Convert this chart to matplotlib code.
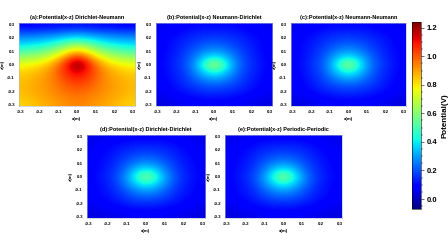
import matplotlib
matplotlib.use("Agg")
import matplotlib.pyplot as plt
import numpy as np

plt.rcParams['font.family'] = ['Liberation Sans', 'DejaVu Sans']
plt.rcParams['font.weight'] = 'bold'

titles = ["(a):Potential(x-z) Dirichlet-Neumann",
          "(b):Potential(x-z) Neumann-Dirichlet",
          "(c):Potential(x-z) Neumann-Neumann",
          "(d):Potential(x-z) Dirichlet-Dirichlet",
          "(e):Potential(x-z) Periodic-Periodic"]
tick_vals = [-0.3, -0.2, -0.1, 0.0, 0.1, 0.2, 0.3]
tick_labels = ["-0.3", "-0.2", "-0.1", "0.0", "0.1", "0.2", "0.3"]
cbar_ticks = [0.0, 0.2, 0.4, 0.6, 0.8, 1.0, 1.2]
vmin, vmax = -0.07, 1.24

# grids: rows z = 0.30 ... -0.30 (step 0.05), cols x = -0.30 ... 0.30 (step 0.05)
pot_a = [
 [0.09,0.09,0.10,0.10,0.11,0.11,0.12,0.11,0.11,0.10,0.10,0.09,0.09],
 [0.20,0.20,0.21,0.22,0.23,0.25,0.26,0.25,0.23,0.22,0.21,0.20,0.20],
 [0.30,0.31,0.32,0.34,0.37,0.40,0.42,0.40,0.37,0.34,0.32,0.31,0.30],
 [0.40,0.41,0.43,0.47,0.53,0.61,0.66,0.61,0.53,0.47,0.43,0.41,0.40],
 [0.52,0.54,0.57,0.62,0.70,0.80,0.86,0.80,0.70,0.62,0.57,0.54,0.52],
 [0.65,0.67,0.70,0.76,0.86,0.99,1.08,0.99,0.86,0.76,0.70,0.67,0.65],
 [0.76,0.78,0.81,0.87,0.97,1.11,1.23,1.11,0.97,0.87,0.81,0.78,0.76],
 [0.82,0.84,0.87,0.92,1.00,1.09,1.15,1.09,1.00,0.92,0.87,0.84,0.82],
 [0.85,0.87,0.89,0.93,0.99,1.05,1.08,1.05,0.99,0.93,0.89,0.87,0.85],
 [0.86,0.88,0.90,0.93,0.97,1.01,1.03,1.01,0.97,0.93,0.90,0.88,0.86],
 [0.86,0.88,0.90,0.92,0.95,0.98,0.99,0.98,0.95,0.92,0.90,0.88,0.86],
 [0.85,0.87,0.89,0.91,0.93,0.95,0.96,0.95,0.93,0.91,0.89,0.87,0.85],
 [0.83,0.85,0.87,0.89,0.91,0.93,0.94,0.93,0.91,0.89,0.87,0.85,0.83],
]
pot_b = [
 [0.06,0.07,0.08,0.09,0.10,0.10,0.10,0.10,0.10,0.09,0.08,0.07,0.06],
 [0.07,0.09,0.10,0.12,0.13,0.14,0.14,0.14,0.13,0.12,0.10,0.09,0.07],
 [0.08,0.10,0.12,0.14,0.16,0.17,0.18,0.17,0.16,0.14,0.12,0.10,0.08],
 [0.08,0.11,0.13,0.16,0.19,0.22,0.23,0.22,0.19,0.16,0.13,0.11,0.08],
 [0.09,0.11,0.14,0.18,0.23,0.28,0.30,0.28,0.23,0.18,0.14,0.11,0.09],
 [0.09,0.12,0.15,0.20,0.28,0.38,0.43,0.38,0.28,0.20,0.15,0.12,0.09],
 [0.09,0.12,0.16,0.21,0.32,0.49,0.66,0.49,0.32,0.21,0.16,0.12,0.09],
 [0.09,0.12,0.15,0.20,0.29,0.40,0.47,0.40,0.29,0.20,0.15,0.12,0.09],
 [0.08,0.11,0.14,0.18,0.24,0.30,0.33,0.30,0.24,0.18,0.14,0.11,0.08],
 [0.08,0.10,0.13,0.16,0.19,0.22,0.23,0.22,0.19,0.16,0.13,0.10,0.08],
 [0.07,0.09,0.11,0.13,0.15,0.16,0.17,0.16,0.15,0.13,0.11,0.09,0.07],
 [0.06,0.07,0.08,0.10,0.11,0.12,0.12,0.12,0.11,0.10,0.08,0.07,0.06],
 [0.04,0.05,0.06,0.07,0.07,0.08,0.08,0.08,0.07,0.07,0.06,0.05,0.04],
]
pot_c = [
 [0.06,0.07,0.08,0.09,0.10,0.10,0.10,0.10,0.10,0.09,0.08,0.07,0.06],
 [0.07,0.09,0.10,0.12,0.13,0.14,0.14,0.14,0.13,0.12,0.10,0.09,0.07],
 [0.08,0.10,0.12,0.14,0.16,0.17,0.18,0.17,0.16,0.14,0.12,0.10,0.08],
 [0.08,0.11,0.13,0.16,0.19,0.22,0.23,0.22,0.19,0.16,0.13,0.11,0.08],
 [0.09,0.11,0.14,0.18,0.23,0.28,0.30,0.28,0.23,0.18,0.14,0.11,0.09],
 [0.09,0.12,0.15,0.20,0.28,0.37,0.42,0.37,0.28,0.20,0.15,0.12,0.09],
 [0.09,0.12,0.16,0.21,0.31,0.47,0.63,0.47,0.31,0.21,0.16,0.12,0.09],
 [0.09,0.12,0.15,0.20,0.29,0.39,0.46,0.39,0.29,0.20,0.15,0.12,0.09],
 [0.08,0.11,0.14,0.18,0.24,0.30,0.33,0.30,0.24,0.18,0.14,0.11,0.08],
 [0.08,0.10,0.13,0.16,0.19,0.22,0.23,0.22,0.19,0.16,0.13,0.10,0.08],
 [0.07,0.09,0.11,0.13,0.15,0.16,0.17,0.16,0.15,0.13,0.11,0.09,0.07],
 [0.06,0.07,0.08,0.10,0.11,0.12,0.12,0.12,0.11,0.10,0.08,0.07,0.06],
 [0.04,0.05,0.06,0.07,0.07,0.08,0.08,0.08,0.07,0.07,0.06,0.05,0.04],
]
pot_d = [
 [0.05,0.06,0.07,0.08,0.09,0.09,0.09,0.09,0.09,0.08,0.07,0.06,0.05],
 [0.06,0.08,0.09,0.11,0.12,0.13,0.13,0.13,0.12,0.11,0.09,0.08,0.06],
 [0.07,0.09,0.11,0.13,0.15,0.16,0.17,0.16,0.15,0.13,0.11,0.09,0.07],
 [0.08,0.10,0.12,0.15,0.18,0.21,0.22,0.21,0.18,0.15,0.12,0.10,0.08],
 [0.08,0.11,0.13,0.17,0.22,0.27,0.29,0.27,0.22,0.17,0.13,0.11,0.08],
 [0.09,0.11,0.14,0.19,0.27,0.37,0.42,0.37,0.27,0.19,0.14,0.11,0.09],
 [0.09,0.12,0.15,0.21,0.31,0.46,0.59,0.46,0.31,0.21,0.15,0.12,0.09],
 [0.09,0.11,0.14,0.20,0.29,0.39,0.45,0.39,0.29,0.20,0.14,0.11,0.09],
 [0.08,0.11,0.13,0.17,0.23,0.29,0.32,0.29,0.23,0.17,0.13,0.11,0.08],
 [0.08,0.10,0.12,0.15,0.19,0.22,0.23,0.22,0.19,0.15,0.12,0.10,0.08],
 [0.07,0.08,0.10,0.12,0.14,0.16,0.16,0.16,0.14,0.12,0.10,0.08,0.07],
 [0.05,0.07,0.08,0.09,0.10,0.11,0.11,0.11,0.10,0.09,0.08,0.07,0.05],
 [0.04,0.05,0.05,0.06,0.07,0.07,0.07,0.07,0.07,0.06,0.05,0.05,0.04],
]
pot_e = [
 [0.05,0.06,0.07,0.08,0.09,0.09,0.09,0.09,0.09,0.08,0.07,0.06,0.05],
 [0.06,0.08,0.09,0.11,0.12,0.13,0.13,0.13,0.12,0.11,0.09,0.08,0.06],
 [0.07,0.09,0.11,0.13,0.15,0.16,0.17,0.16,0.15,0.13,0.11,0.09,0.07],
 [0.08,0.10,0.12,0.15,0.18,0.21,0.22,0.21,0.18,0.15,0.12,0.10,0.08],
 [0.08,0.11,0.13,0.17,0.22,0.27,0.29,0.27,0.22,0.17,0.13,0.11,0.08],
 [0.09,0.11,0.14,0.19,0.27,0.37,0.42,0.37,0.27,0.19,0.14,0.11,0.09],
 [0.09,0.12,0.15,0.21,0.31,0.46,0.60,0.46,0.31,0.21,0.15,0.12,0.09],
 [0.09,0.11,0.14,0.20,0.29,0.39,0.45,0.39,0.29,0.20,0.14,0.11,0.09],
 [0.08,0.11,0.13,0.17,0.23,0.29,0.32,0.29,0.23,0.17,0.13,0.11,0.08],
 [0.08,0.10,0.12,0.15,0.19,0.22,0.23,0.22,0.19,0.15,0.12,0.10,0.08],
 [0.07,0.08,0.10,0.12,0.14,0.16,0.16,0.16,0.14,0.12,0.10,0.08,0.07],
 [0.05,0.07,0.08,0.09,0.10,0.11,0.11,0.11,0.10,0.09,0.08,0.07,0.05],
 [0.04,0.05,0.05,0.06,0.07,0.07,0.07,0.07,0.07,0.06,0.05,0.05,0.04],
]
fields = [pot_a, pot_b, pot_c, pot_d, pot_e]

W, H = 448, 252
fig = plt.figure(figsize=(4.48, 2.52), dpi=100)

def rect(l, t, r, b):
    return [l / W, 1 - b / H, (r - l) / W, (b - t) / H]

rects = [rect(19, 23, 135, 106), rect(156, 23, 272, 106), rect(291, 23, 406, 106),
         rect(87, 135, 205, 218), rect(225, 135, 342, 218)]

im = None
for r, ttl, f in zip(rects, titles, fields):
    ax = fig.add_axes(r)
    im = ax.imshow(np.array(f), cmap='jet', vmin=vmin, vmax=vmax,
                   extent=[-0.31, 0.31, -0.31, 0.31], origin='upper',
                   interpolation='bicubic', aspect='auto')
    ax.set_xlim(-0.31, 0.31)
    ax.set_ylim(-0.31, 0.31)
    ax.set_xticks(tick_vals)
    ax.set_xticklabels(tick_labels)
    ax.set_yticks(tick_vals)
    ax.set_yticklabels(tick_labels)
    ax.tick_params(labelsize=3.2, length=0, pad=3)
    for lab in ax.get_xticklabels() + ax.get_yticklabels():
        lab.set_fontweight('bold')
    ax.set_title(ttl, fontsize=4.0, fontweight='bold', pad=3)
    ax.set_xlabel("x(m)", fontsize=3.2, fontweight='bold', labelpad=2)
    ax.set_ylabel("z(m)", fontsize=3.2, fontweight='bold', labelpad=2)
    for s in ax.spines.values():
        s.set_color('#b0b8d0')
        s.set_linewidth(0.4)

cax = fig.add_axes(rect(412, 22, 421, 209))
cb = fig.colorbar(im, cax=cax, ticks=cbar_ticks)
cb.ax.set_yticklabels([f"{v:.1f}" for v in cbar_ticks])
cb.ax.tick_params(labelsize=5.5, length=2, width=0.4, pad=2)
cb.ax.minorticks_on()
cb.ax.tick_params(which='minor', length=1.2, width=0.3)
for lab in cb.ax.get_yticklabels():
    lab.set_fontweight('bold')
cb.set_label("Potential(V)", fontsize=5.8, fontweight='bold', labelpad=3)
cb.outline.set_linewidth(0.4)

fig.savefig("out.png", dpi=100)
